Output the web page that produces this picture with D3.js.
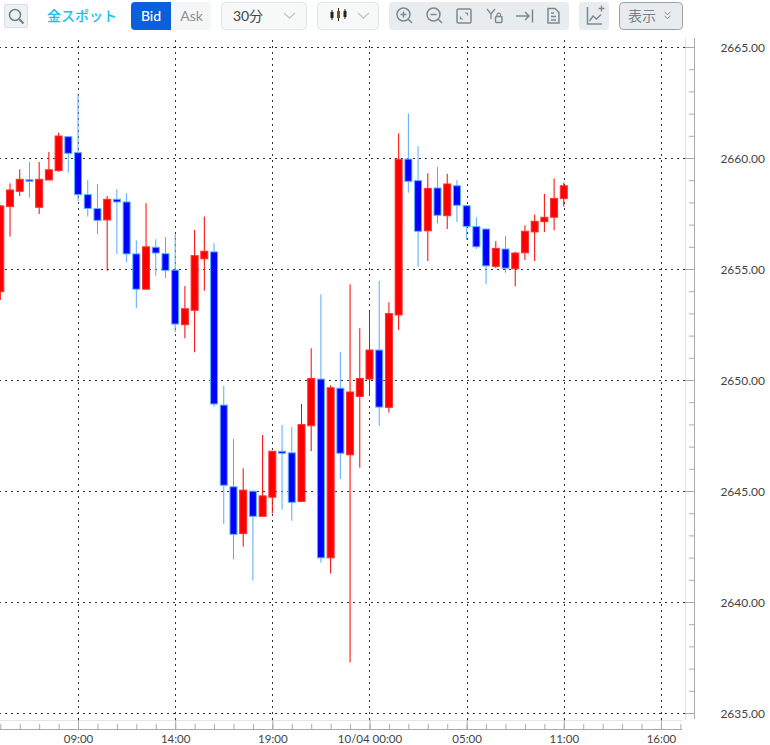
<!DOCTYPE html>
<html>
<head>
<meta charset="utf-8">
<script src="https://d3js.org/d3.v7.min.js"></script>
<style>
body { margin: 0; background: #fff; }
svg { display: block; }
text { font-family: Lato, "Noto Sans CJK JP", sans-serif; }
</style>
</head>
<body>
<script>
/* Bar times ---------------------------------------------------------------- */
var barTimes = ["10/03 05:00","10/03 05:30","10/03 06:00","10/03 06:30","10/03 07:00","10/03 07:30","10/03 08:00","10/03 08:30",
	"10/03 09:00","10/03 09:30","10/03 10:00","10/03 10:30","10/03 11:00","10/03 11:30","10/03 12:00","10/03 12:30","10/03 13:00","10/03 13:30",
	"10/03 14:00","10/03 14:30","10/03 15:00","10/03 15:30","10/03 16:00","10/03 16:30","10/03 17:00","10/03 17:30","10/03 18:00","10/03 18:30",
	"10/03 19:00","10/03 19:30","10/03 20:00","10/03 20:30","10/03 21:00","10/03 21:30","10/03 22:00","10/03 22:30","10/03 23:00","10/03 23:30",
	"10/04 00:00","10/04 00:30","10/04 01:00","10/04 01:30","10/04 02:00","10/04 02:30","10/04 03:00","10/04 03:30","10/04 04:00","10/04 04:30",
	"10/04 05:00","10/04 05:30","10/04 07:00","10/04 07:30","10/04 08:00","10/04 08:30","10/04 09:00","10/04 09:30","10/04 10:00","10/04 10:30",
	"10/04 11:00"];
/* Empty slots to the right of the last bar --------------------------------- */
var futureTimes = ["10/04 11:30","10/04 12:00","10/04 12:30","10/04 13:00","10/04 13:30","10/04 14:00","10/04 14:30","10/04 15:00","10/04 15:30","10/04 16:00","10/04 16:30","10/04 17:00"];

/* OHLC values -------------------------------------------------------------- */
var opens = [2653.98,2657.81,2658.50,2659.02,2657.78,2659.01,2659.43,2660.96,2660.24,2658.35,2657.72,2657.21,2658.14,2658.02,2655.68,2654.09,2655.98,2655.69,
	2654.95,2652.49,2653.14,2655.46,2655.77,2648.87,2645.19,2643.08,2644.99,2643.86,2644.72,2646.79,2646.72,2644.53,2647.94,2650.04,2641.99,2649.63,2646.63,2649.26,2650.04,2651.35,
	2648.77,2652.93,2659.95,2658.98,2656.72,2658.65,2657.40,2658.75,2657.85,2656.91,2656.80,2655.12,2655.90,2655.01,2655.73,2656.67,2657.13,2657.33,2658.17];
var highs = [2657.88,2658.86,2659.49,2659.82,2659.82,2660.27,2661.14,2660.99,2662.91,2659.01,2658.83,2658.29,2658.59,2658.41,2656.29,2657.96,2656.34,2656.44,
	2656.58,2654.23,2656.76,2657.36,2656.16,2649.73,2647.34,2646.02,2645.04,2647.52,2646.79,2647.97,2647.88,2648.92,2651.43,2653.86,2649.76,2651.25,2654.31,2652.33,2653.12,2654.47,
	2653.50,2661.11,2662.01,2660.53,2659.31,2659.61,2659.29,2659.01,2657.87,2657.33,2656.82,2656.25,2656.50,2655.78,2656.97,2657.45,2658.39,2659.08,2658.89];
var lows = [2653.60,2656.46,2658.29,2658.21,2657.48,2659.01,2659.38,2659.34,2658.06,2657.36,2656.58,2654.92,2655.68,2655.30,2653.24,2654.09,2654.70,2654.59,
	2652.16,2651.88,2651.25,2654.02,2648.80,2643.51,2641.92,2642.49,2640.96,2643.86,2643.99,2644.16,2643.66,2644.53,2646.80,2641.77,2641.29,2645.54,2637.28,2646.05,2649.31,2647.94,
	2648.53,2652.25,2658.44,2655.09,2655.36,2657.06,2656.80,2657.12,2656.31,2655.90,2654.31,2655.04,2654.83,2654.22,2655.40,2655.36,2656.67,2656.74,2657.81];
var closes = [2657.84,2658.56,2659.04,2658.95,2659.04,2659.47,2660.99,2660.21,2658.35,2657.73,2657.19,2658.14,2658.02,2655.68,2654.09,2656.00,2655.72,2654.94,
	2652.52,2653.21,2655.60,2655.80,2648.92,2645.26,2643.05,2645.04,2643.86,2644.78,2646.79,2646.70,2644.49,2647.99,2650.07,2641.99,2649.65,2646.70,2649.46,2650.07,2651.35,2648.78,
	2652.99,2659.94,2658.95,2656.70,2658.63,2657.42,2658.83,2657.87,2656.92,2656.00,2655.14,2655.93,2655.04,2655.72,2656.70,2657.15,2657.33,2658.18,2658.75];

/* Axis ticks --------------------------------------------------------------- */
var priceTicks = [2635,2640,2645,2650,2655,2660,2665];
var priceMinor = d3.range(2635,2666);
var timeTicks = ["10/03 09:00","10/03 14:00","10/03 19:00","10/04 00:00","10/04 05:00","10/04 11:00","10/04 16:00"];
var timeLabels = ["09:00","14:00","19:00","10/04 00:00","05:00","11:00","16:00"];

var width = 770, height = 745;
var svg = d3.select("body").append("svg").attr("width",width).attr("height",height);

var allTimes = barTimes.concat(futureTimes);
var xScale = d3.scalePoint().domain(allTimes).range([0.3,680.4]);
var yScale = d3.scaleLinear().domain([2635,2665]).range([713,47]);

/* Grid --------------------------------------------------------------------- */
var gridY = svg.append("g").attr("class","grid")
	.attr("transform","translate(685,0)")
	.call(d3.axisLeft(yScale).tickValues(priceTicks).tickSize(685).tickFormat(""));
var gridX = svg.append("g").attr("class","grid")
	.attr("transform","translate(0,720)")
	.call(d3.axisTop(xScale).tickValues(timeTicks).tickSize(682).tickFormat(""));
svg.selectAll(".grid .domain").remove();
svg.selectAll(".grid line")
	.style("stroke","#333")
	.style("stroke-dasharray","2,4")
	.style("shape-rendering","crispEdges");

/* Candles ------------------------------------------------------------------ */
var bars = barTimes.map(function(t,i){
	return {time:t, open:opens[i], high:highs[i], low:lows[i], close:closes[i]};
});
var candle = svg.append("g").selectAll("g").data(bars).enter().append("g");
candle.append("line")
	.attr("x1",function(d){ return xScale(d.time); })
	.attr("x2",function(d){ return xScale(d.time); })
	.attr("y1",function(d){ return yScale(d.high); })
	.attr("y2",function(d){ return yScale(d.low); })
	.attr("stroke",function(d){ return d.close >= d.open ? "#ff0000" : "#55aaff"; })
	.attr("stroke-width",1);
candle.append("rect")
	.attr("x",function(d){ return xScale(d.time)-3.5; })
	.attr("width",7)
	.attr("y",function(d){ return yScale(Math.max(d.open,d.close)); })
	.attr("height",function(d){ return Math.max(1,Math.abs(yScale(d.open)-yScale(d.close))); })
	.attr("fill",function(d){ return d.close >= d.open ? "#ff0000" : "#0000ff"; })
	.attr("stroke",function(d){ return d.close >= d.open ? "#ff3030" : "#5cb0ff"; })
	.attr("stroke-width",1);

/* Axes --------------------------------------------------------------------- */
svg.append("line").attr("x1",685.5).attr("x2",685.5).attr("y1",38).attr("y2",720).attr("stroke","#e4e4e4");
svg.append("line").attr("x1",0).attr("x2",682).attr("y1",720.5).attr("y2",720.5).attr("stroke","#e4e4e4");

var yMinor = svg.append("g")
	.attr("transform","translate(694,0)")
	.call(d3.axisLeft(yScale).tickValues(priceMinor).tickSize(5).tickFormat(""));
yMinor.select(".domain").remove();
yMinor.selectAll("line").attr("stroke","#aaa");
var yMajor = svg.append("g")
	.attr("transform","translate(694,0)")
	.call(d3.axisLeft(yScale).tickValues(priceTicks).tickSize(9).tickFormat(""));
yMajor.select(".domain").remove();
yMajor.selectAll("line").attr("stroke","#aaa");
svg.append("line").attr("x1",694.5).attr("x2",694.5).attr("y1",38).attr("y2",719).attr("stroke","#aaa");

svg.append("g").selectAll("text").data(priceTicks).enter().append("text")
	.attr("x",765).attr("y",function(d){ return yScale(d)+4.5; })
	.attr("text-anchor","end")
	.attr("font-size",12)
	.attr("fill","#444")
	.text(function(d){ return d3.format(".2f")(d); });

var xMinor = svg.append("g")
	.attr("transform","translate(0,729)")
	.call(d3.axisTop(xScale).tickValues(allTimes.filter(function(t,i){ return i%2==0; })).tickSize(5).tickFormat(""));
xMinor.select(".domain").remove();
xMinor.selectAll("line").attr("stroke","#aaa");
var xMajor = svg.append("g")
	.attr("transform","translate(0,729)")
	.call(d3.axisTop(xScale).tickValues(timeTicks).tickSize(9).tickFormat(""));
xMajor.select(".domain").remove();
xMajor.selectAll("line").attr("stroke","#aaa");
svg.append("line").attr("x1",0).attr("x2",682).attr("y1",729.5).attr("y2",729.5).attr("stroke","#aaa");

svg.append("g").selectAll("text").data(timeTicks).enter().append("text")
	.attr("x",function(d){ return xScale(d)+0.5; }).attr("y",742.5)
	.attr("text-anchor","middle")
	.attr("font-size",11.5)
	.attr("fill","#444")
	.text(function(d,i){ return timeLabels[i]; });

/* Toolbar ------------------------------------------------------------------ */
var bar = svg.append("g");
var box = function(x,y,w,h,fill,stroke,r){
	return bar.append("rect").attr("x",x).attr("y",y).attr("width",w).attr("height",h)
		.attr("rx",r).attr("fill",fill).attr("stroke",stroke);
};
var icon = function(d,stroke,sw){
	return bar.append("path").attr("d",d).attr("fill","none").attr("stroke",stroke).attr("stroke-width",sw||1.5);
};
var label = function(x,t,size,fill,weight){
	return bar.append("text").attr("x",x).attr("y",21).attr("text-anchor","middle")
		.attr("font-size",size).attr("fill",fill).attr("font-weight",weight||400).text(t);
};
box(4.5,4.5,23,23,"#eef1f2","#d5dcdf",2);
bar.append("circle").attr("cx",15).attr("cy",15).attr("r",5.5).attr("fill","none").attr("stroke","#6d8088").attr("stroke-width",1.5);
icon("M19,19L23.5,23.5","#6d8088",2);

label(82,"金スポット",14,"#14c0f5",500);

box(131,2,40,28,"#0a5fdc","none",4);
box(167,2,4,28,"#0a5fdc","none",0);
box(171,2,40,28,"#f5f6f7","none",4);
box(171,2,4,28,"#f5f6f7","none",0);
label(151,"Bid",14,"#fff",500);
label(191.5,"Ask",14,"#8a8f94");

box(221.5,2.5,85,27,"#f7f8f8","#dfe6e9",4);
label(248,"30分",14,"#444");
icon("M284,13L289.5,18L295,13","#c4c8ca",1.3);

box(317.5,2.5,61,27,"#f7f8f8","#dfe6e9",4);
icon("M332,10V20M338.5,8V21M345,9V19","#222",1);
bar.append("rect").attr("x",330.5).attr("y",12).attr("width",3).attr("height",6).attr("fill","#222");
bar.append("rect").attr("x",337).attr("y",11).attr("width",3).attr("height",7).attr("fill","#8a4a20");
bar.append("rect").attr("x",343.5).attr("y",11).attr("width",3).attr("height",6).attr("fill","#222");
icon("M358,13L363.5,18L369,13","#c4c8ca",1.3);

box(389,2,180,28,"#e8ecee","none",4);
var iconCol = "#7b8a92";
bar.append("circle").attr("cx",403.5).attr("cy",14.5).attr("r",6.5).attr("fill","none").attr("stroke",iconCol).attr("stroke-width",1.5);
icon("M408.5,19.5L412,23M400.5,14.5H406.5M403.5,11.5V17.5",iconCol);
bar.append("circle").attr("cx",433.5).attr("cy",14.5).attr("r",6.5).attr("fill","none").attr("stroke",iconCol).attr("stroke-width",1.5);
icon("M438.5,19.5L442,23M430.5,14.5H436.5",iconCol);
box(457,9,14,14,"none",iconCol,1.5).attr("stroke-width",1.5);
icon("M463,19H460.5V16.5M465,13H467.5V15.5",iconCol,1.2);
icon("M487,9L491,14L495,9M491,14V19",iconCol,1.3);
box(495.5,16.5,6.5,6,"none",iconCol,1).attr("stroke-width",1.5);
icon("M497,16.5V14.5A1.8,1.8 0 0 1 500.5,14.5V16.5",iconCol,1.2);
icon("M516,16H529M525,12L529,16L525,20M532.5,9.5V22.5",iconCol);
icon("M548,8.5H555L559,12.5V23H548ZM551,13H554M551,16.5H556M551,20H556",iconCol);

box(579,2,30,28,"#e8ecee","none",4);
icon("M587.5,7V24H602",iconCol);
icon("M589.5,21L593,16L596.5,19L601,14.5M598.5,8.5H604.5M601.5,5.5V11.5",iconCol,1.4);

box(619.5,2.5,63,27,"#e8ecee","#9aa3a7",4);
label(642,"表示",14,"#7b8286");
icon("M664.5,12L667.5,14.5L670.5,12M664.5,16L667.5,18.5L670.5,16","#8a9296",1);
</script>
</body>
</html>
